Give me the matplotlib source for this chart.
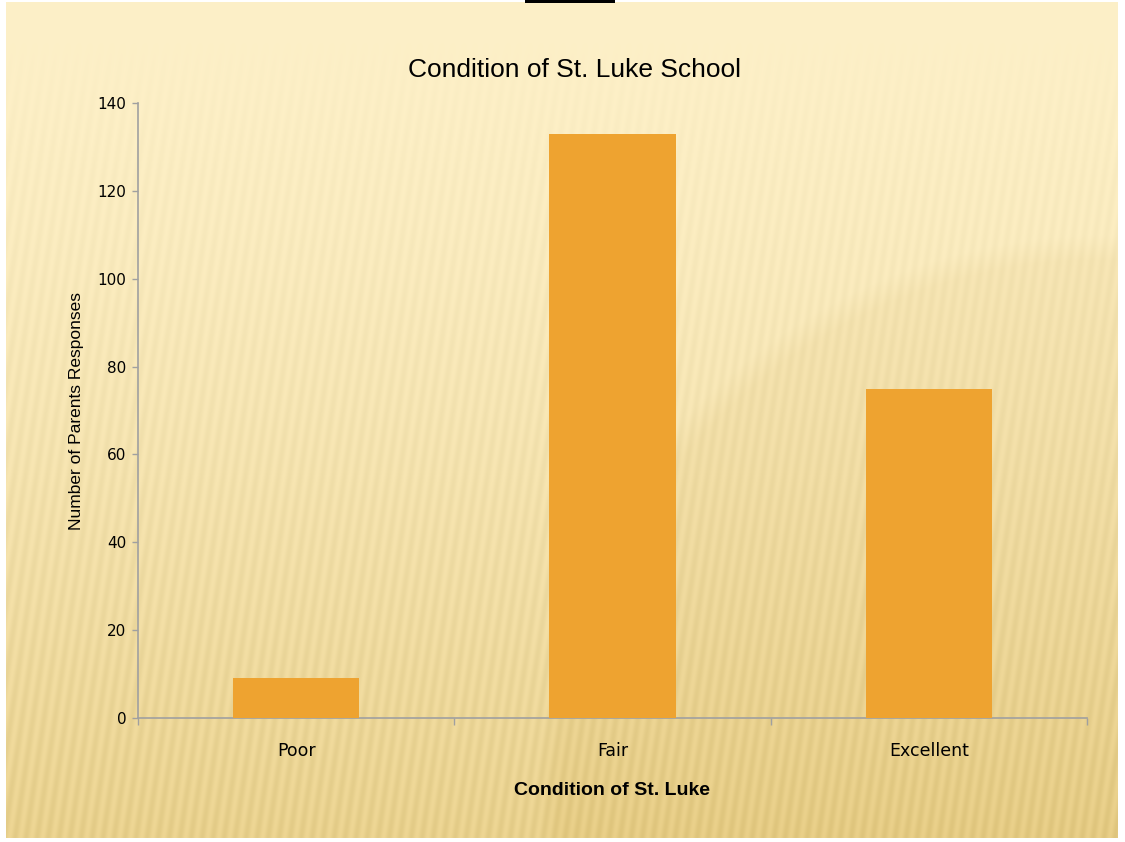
import numpy as np
import matplotlib
matplotlib.use('Agg')
import matplotlib.pyplot as plt
from matplotlib.patches import Rectangle

categories = ['Poor', 'Fair', 'Excellent']
responses = [9, 133, 75]
y_ticks = [0, 20, 40, 60, 80, 100, 120, 140]

BAR_COLOR = '#EEA330'
AXIS_COLOR = '#A0A0A0'
W, H = 1125, 842


def make_background():
    """Cream to tan gradient with faint slanted stripes."""
    yy, xx = np.mgrid[0:H, 0:W].astype(float)
    t = (yy / H) ** 1.4
    top = np.array([253, 240, 200], float)
    bot = np.array([232, 208, 140], float)
    img = top[None, None, :] * (1 - t[..., None]) + bot[None, None, :] * t[..., None]
    # darker arc region on the right
    d = np.sqrt((xx - 1100) ** 2 + (yy - 800) ** 2)
    arc = np.clip((565 - d) / 25.0, 0, 1)
    img -= arc[..., None] * np.array([4, 6, 10])
    # slanted stripes, stronger towards the bottom
    phase = (xx + 0.15 * yy) * 2 * np.pi / 11.0
    amp = 1.5 + 4 * (yy / H)
    amp *= np.clip(1 - np.exp(-((yy - 40) / 60.0)), 0, 1)
    img += (amp * np.sin(phase))[..., None] * np.array([1.0, 1.0, 1.2])
    return np.clip(img, 0, 255).astype(np.uint8)


fig = plt.figure(figsize=(W / 100, H / 100), dpi=100)

bg = fig.add_axes([0, 0, 1, 1], zorder=-10)
bg.imshow(make_background(), extent=(0, W, H, 0), aspect='auto')
bg.set_xlim(0, W)
bg.set_ylim(H, 0)
bg.axis('off')
# white frame and small black tab at the top
for r in [(0, 0, 6, H), (1118, 0, 7, H), (0, 0, W, 2), (0, 838, W, 4)]:
    bg.add_patch(Rectangle(r[:2], r[2], r[3], color='white', lw=0))
bg.add_patch(Rectangle((525, 0), 90, 3, color='black', lw=0))

ax = fig.add_axes([138 / W, 1 - 718 / H, (1087 - 138) / W, (718 - 103) / H])
ax.patch.set_alpha(0)

x = np.arange(len(categories))
ax.bar(x, responses, width=0.4, color=BAR_COLOR, zorder=3)

ax.set_xlim(-0.5, len(categories) - 0.5)
ax.set_ylim(0, 140)
ax.set_yticks(y_ticks)
ax.set_yticklabels([str(v) for v in y_ticks], fontsize=11, family='DejaVu Sans')

# category boundaries get tick marks, labels sit in the middle
ax.set_xticks(np.arange(-0.5, len(categories), 1.0))
ax.set_xticklabels([])
ax.set_xticks(x, minor=True)
ax.set_xticklabels(categories, minor=True, fontsize=12.5, family='DejaVu Sans')
ax.tick_params(axis='x', which='minor', length=0, pad=17)
ax.tick_params(axis='x', which='major', length=5, width=1, color=AXIS_COLOR, direction='out')
ax.tick_params(axis='y', length=4, width=1, color=AXIS_COLOR, direction='out', pad=4.5)

for side in ['top', 'right']:
    ax.spines[side].set_visible(False)
for side in ['left', 'bottom']:
    ax.spines[side].set_color(AXIS_COLOR)
    ax.spines[side].set_linewidth(1.2)

ax.set_ylabel('Number of Parents Responses', fontsize=12.5, family='Liberation Sans', labelpad=9.5)
ax.set_xlabel('Condition of St. Luke', fontsize=14, fontweight='bold',
              family='Liberation Sans', labelpad=16)

fig.text(574.5 / W, 1 - 70 / H, 'Condition of St. Luke School', ha='center', va='center',
         fontsize=19, family='Liberation Sans')

fig.savefig('out.png', dpi=100)
